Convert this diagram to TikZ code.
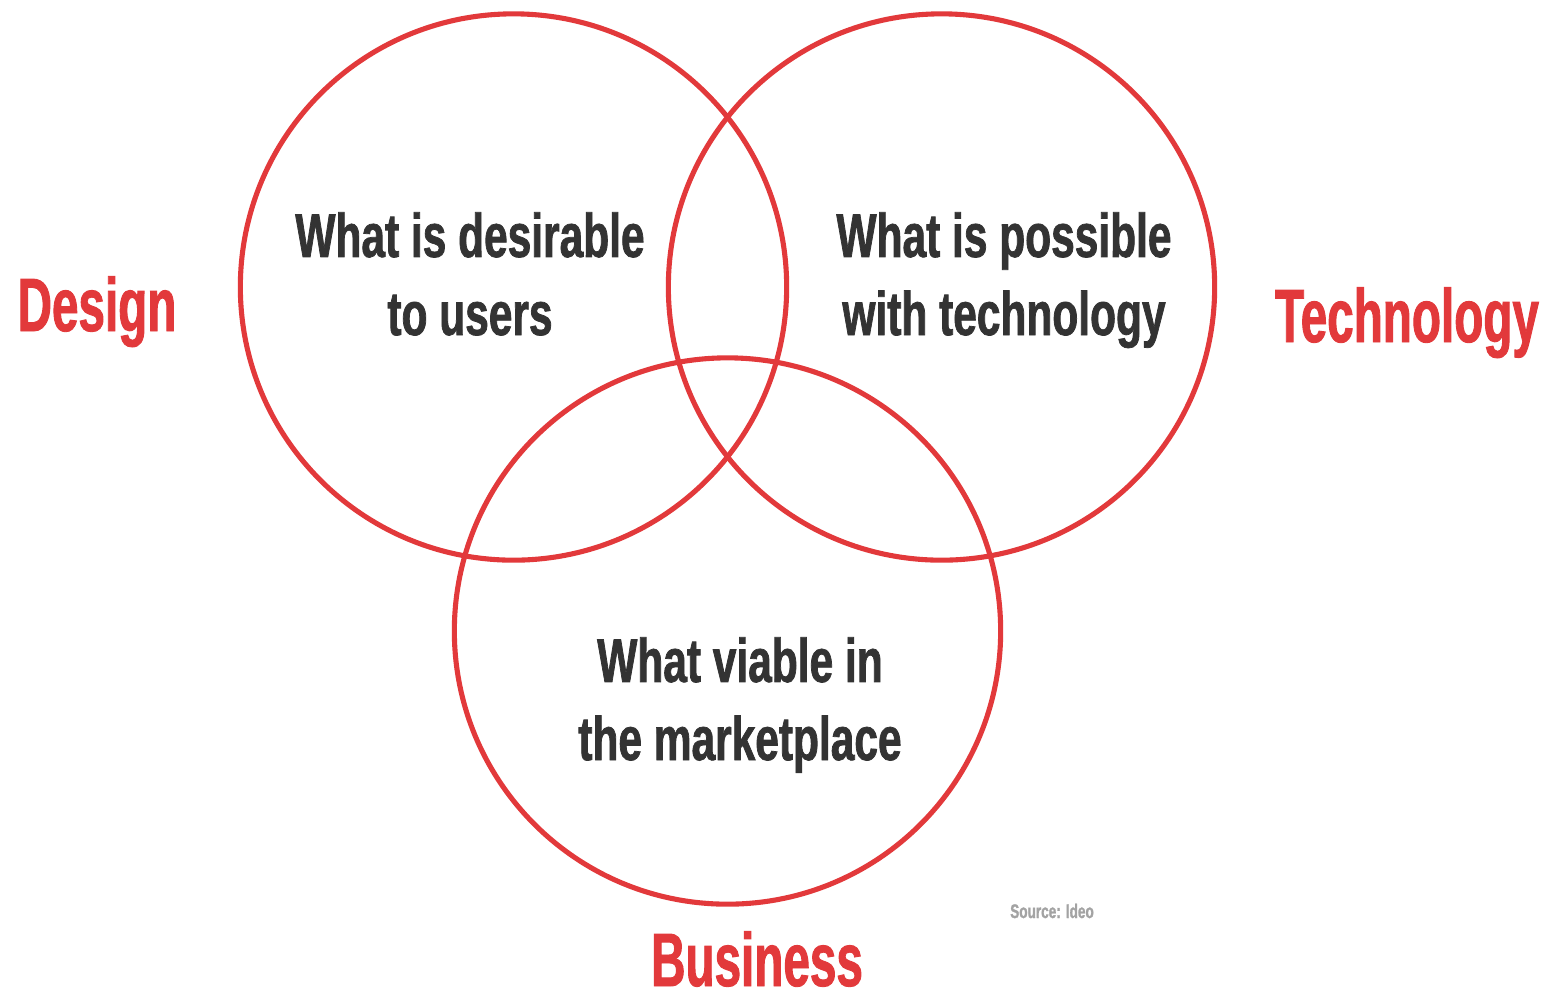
\documentclass[tikz,border=0pt]{standalone}
\usepackage{fontspec}
\newfontfamily\vennfont[FakeStretch=0.69,FakeBold=1.2]{Liberation Sans}
\newfontfamily\areafont[FakeStretch=0.63,FakeBold=1.2]{Liberation Sans}
\definecolor{vennred}{HTML}{E2393B}
\definecolor{venntext}{HTML}{333333}
\definecolor{venngray}{HTML}{A3A3A3}

\begin{document}
\begin{tikzpicture}[x=0.01cm,y=-0.01cm,
                    ring/.style={circle,draw=vennred,line width=1.45pt,
                                 minimum size=5.46cm,inner sep=0pt},
                    what/.style={align=center,anchor=base,text=venntext,
                                 font=\vennfont\bfseries\fontsize{17.5}{22.2}\selectfont},
                    area/.style={anchor=base,text=vennred,inner sep=0pt,
                                 font=\areafont\bfseries\fontsize{21.5}{24}\selectfont}]

  \useasboundingbox (0,0) rectangle (1549,993);

  % the three circles
  \node[ring] (desire)  at (513.5,287) {};
  \node[ring] (possible) at (941.5,287) {};
  \node[ring] (viable)  at (727.5,631) {};

  % what each circle stands for
  \node[what] (desiretext)   at (470,335)  {What is desirable\\to users};
  \node[what] (possibletext) at (1004,335) {What is possible\\with technology};
  \node[what] (viabletext)   at (740,760)  {What viable in\\the marketplace};

  % the three areas
  \node[area] (design)     at (97,331)   {Design};
  \node[area] (technology) at (1407,342) {Technology};
  \node[area] (business)   at (757,986)  {Business};

  \node[anchor=base,text=venngray,inner sep=0pt,
        font=\vennfont\bfseries\fontsize{5.6}{7}\selectfont] (source) at (1052,918) {Source: Ideo};
\end{tikzpicture}
\end{document}
